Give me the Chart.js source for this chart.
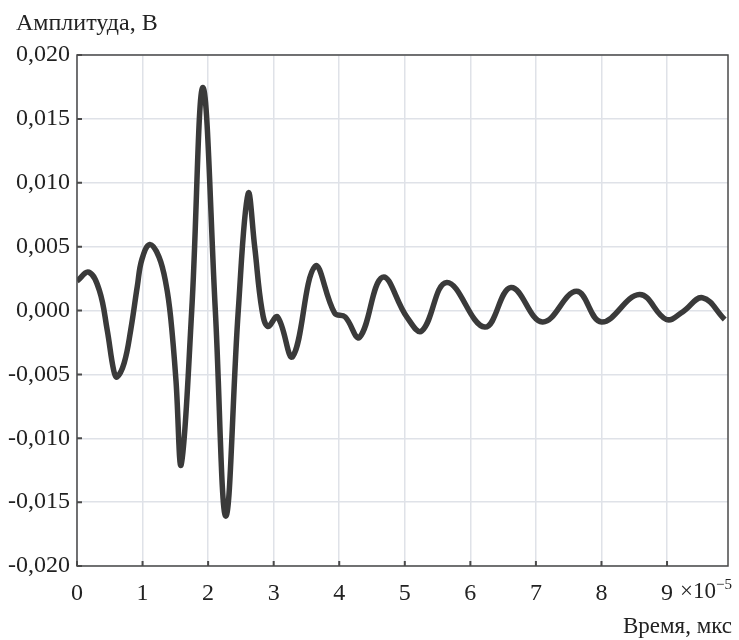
<!DOCTYPE html>
<html>
<head>
<meta charset="utf-8">
<script src="https://cdn.jsdelivr.net/npm/chart.js@4.4.1/dist/chart.umd.min.js"></script>
<style>
  body { margin: 0; background: #fff; }
  #wrap { position: relative; width: 739px; height: 640px; font-family: "Liberation Serif", "DejaVu Serif", serif; color: #222; }
  canvas { position: absolute; left: 0; top: 0; }
  .lbl { position: absolute; font-size: 24px; line-height: 24px; white-space: nowrap; }
  .lbl sup { font-size: 15px; line-height: 0; vertical-align: 9px; }
</style>
</head>
<body>
<div id="wrap">
  <canvas id="myChart" width="739" height="640"></canvas>
  <div class="lbl" style="left:16px; top:10px;">Амплитуда, В</div>
  <div class="lbl" style="left:680px; top:579px; font-size:23px;">×10<sup>−5</sup></div>
  <div class="lbl" style="left:623px; top:614px; font-size:23px;">Время, мкс</div>
</div>
<script>
// время (×10^-5) и амплитуда (В)
const timeX = [0, 0.18, 0.34, 0.46, 0.56, 0.61, 0.72, 0.82, 0.92, 0.99, 1.11, 1.25, 1.36, 1.43, 1.51, 1.59, 1.75, 1.92, 2.11, 2.27, 2.46, 2.61, 2.71, 2.82, 2.91, 3.06, 3.29, 3.63, 3.93, 4.09, 4.31, 4.66, 5.03, 5.26, 5.64, 6.22, 6.62, 7.1, 7.62, 8.0, 8.58, 8.99, 9.24, 9.54, 9.88];
const amplitude = [0.0023, 0.0030, 0.0016, -0.0015, -0.0047, -0.0052, -0.0041, -0.0015, 0.0019, 0.0040, 0.00516, 0.0042, 0.0020, -0.0006, -0.0055, -0.01205, 0.0, 0.01745, 0.0, -0.0161, 0.0, 0.00915, 0.005, 0.0001, -0.00125, -0.0005, -0.0036, 0.00345, -0.0002, -0.0005, -0.0021, 0.0026, -0.0005, -0.0016, 0.0022, -0.0013, 0.0018, -0.0009, 0.0015, -0.0009, 0.00125, -0.0007, -0.0001, 0.0010, -0.0007];
const xTicks = [0, 1, 2, 3, 4, 5, 6, 7, 8, 9];
const yMin = -0.020, yMax = 0.020, yStep = 0.005;
const xMax = 9.93;

const frame = {
  id: 'frame',
  afterDraw(chart) {
    const ctx = chart.ctx, a = chart.chartArea;
    const xs = chart.scales.x, ys = chart.scales.y;
    ctx.save();
    ctx.strokeStyle = '#4a4a4a';
    ctx.lineWidth = 1.5;
    ctx.strokeRect(a.left, a.top, a.right - a.left, a.bottom - a.top);
    ctx.lineWidth = 2;
    ctx.beginPath();
    xs.ticks.forEach(t => {
      const px = xs.getPixelForValue(t.value);
      ctx.moveTo(px, a.bottom); ctx.lineTo(px, a.bottom - 5);
    });
    ys.ticks.forEach(t => {
      const py = ys.getPixelForValue(t.value);
      ctx.moveTo(a.left, py); ctx.lineTo(a.left + 5, py);
    });
    ctx.stroke();
    ctx.restore();
  }
};

const ctx = document.getElementById('myChart').getContext('2d');
const data = {
  datasets: [{
    data: timeX.map((t, i) => ({ x: t, y: amplitude[i] })),
    borderColor: '#3a3a3a',
    borderWidth: 5.5,
    pointRadius: 0,
    tension: 0.4,
    fill: false
  }]
};
const config = {
  type: 'line',
  data: data,
  options: {
    responsive: false,
    animation: false,
    layout: { padding: { top: 55, right: 11, left: 0, bottom: 0 } },
    plugins: { legend: { display: false }, tooltip: { enabled: false } },
    scales: {
      x: {
        type: 'linear',
        min: 0, max: xMax,
        afterFit: s => { s.height = 74; },
        afterBuildTicks: s => { s.ticks = xTicks.map(v => ({ value: v })); },
        grid: { color: '#dfe2e8', lineWidth: 1.5, drawTicks: false },
        border: { display: false },
        ticks: {
          padding: 13,
          color: '#222',
          font: { family: 'Liberation Serif', size: 24 },
          maxRotation: 0,
          callback: v => String(v)
        }
      },
      y: {
        min: yMin, max: yMax,
        afterFit: s => { s.width = 77; },
        grid: { color: '#dfe2e8', lineWidth: 1.5, drawTicks: false },
        border: { display: false },
        ticks: {
          stepSize: yStep,
          padding: 7,
          color: '#222',
          font: { family: 'Liberation Serif', size: 24 },
          callback: v => v.toFixed(3).replace('.', ',')
        }
      }
    }
  },
  plugins: [frame]
};
const mychart = new Chart(ctx, config);
</script>
</body>
</html>
